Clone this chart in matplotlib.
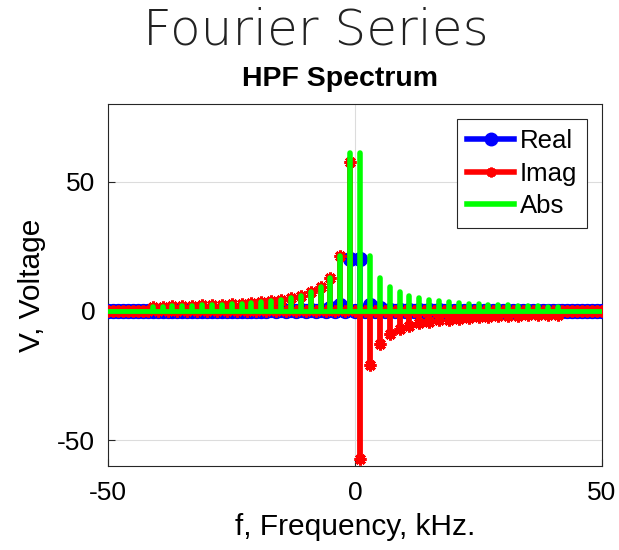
import numpy as np
import matplotlib
matplotlib.use('Agg')
import matplotlib.pyplot as plt
from matplotlib.lines import Line2D

# Espectro de uma onda quadrada depois do filtro passa-altas (harmônicos ímpares, kHz)
harmonicos = [1, 3, 5, 7, 9, 11, 13, 15, 17, 19, 21, 23, 25, 27, 29, 31, 33, 35, 37, 39, 41]
parte_real = [20.0, 2.4, 0.9, 0.45, 0.3, 0.2, 0.15, 0.1, 0.1, 0.05, 0.05,
              0.05, 0.05, 0.03, 0.03, 0.03, 0.02, 0.02, 0.02, 0.02, 0.02]
parte_imag = [-57.5, -21.0, -12.7, -9.1, -7.1, -5.8, -4.9, -4.2, -3.7, -3.4, -3.0,
              -2.8, -2.5, -2.4, -2.2, -2.1, -1.9, -1.8, -1.7, -1.6, -1.6]

# Eixo de frequência de -50 a 50 kHz, zero fora dos harmônicos
f = np.arange(-50, 51)
real = np.zeros(len(f))
imag = np.zeros(len(f))
for n, re, im in zip(harmonicos, parte_real, parte_imag):
    real[f == n] = re
    real[f == -n] = re
    imag[f == n] = im
    imag[f == -n] = -im
modulo = np.hypot(real, imag)

plt.rcParams['font.family'] = ['Liberation Sans', 'DejaVu Sans']
plt.rcParams['axes.unicode_minus'] = False

fig = plt.figure(figsize=(6.19, 5.50), dpi=100)
ax = fig.add_axes([0.175, 0.153, 0.7975, 0.658])

asterisco = (8, 2, 0)

# Real
ml, sl, bl = ax.stem(f, real)
plt.setp(ml, color='blue', marker='o', markersize=10, zorder=3)
plt.setp(sl, color='blue', linewidth=4, zorder=3)
plt.setp(bl, color='blue', linewidth=5, zorder=3, solid_capstyle='round')

# Imag
ml, sl, bl = ax.stem(f, imag)
plt.setp(ml, color='red', marker=asterisco, markersize=8.5, markeredgewidth=2.2, zorder=4)
plt.setp(sl, color='red', linewidth=4.2, zorder=4)
sl.set_capstyle('round')
plt.setp(bl, color='red', linewidth=5, zorder=4)

# Abs
ml, sl, bl = ax.stem(f, modulo)
plt.setp(ml, visible=False)
plt.setp(sl, color='#00ff00', linewidth=4, zorder=5)
sl.set_capstyle('round')
plt.setp(bl, color='#00ff00', linewidth=3.5, zorder=5)

ax.set_xlim(-50, 50)
ax.set_ylim(-60, 80)
ax.set_xticks([-50, 0, 50])
ax.set_yticks([-50, 0, 50])
ax.grid(True, color='#dcdcdc', linewidth=0.8)
ax.set_axisbelow(True)
ax.tick_params(direction='in', length=5, labelsize=19, width=0.8, color='#262626')
ax.tick_params(axis='x', pad=11)
ax.tick_params(axis='y', pad=9.5)
for s in ax.spines.values():
    s.set_color('#262626')
    s.set_linewidth(0.8)

ax.set_xlabel('f, Frequency, kHz.', fontsize=21.5, labelpad=6)
ax.set_ylabel('V, Voltage', fontsize=21.5, labelpad=8)
fig.text(0.549, 0.857, 'HPF Spectrum', fontsize=20.5, fontweight='bold', ha='center', va='center')
fig.text(0.51, 0.945, 'Fourier Series', fontsize=36, family='DejaVu Sans', fontweight='light',
         color='#222222', ha='center', va='center')

handles = [Line2D([], [], color='blue', lw=4, marker='o', markersize=9),
           Line2D([], [], color='red', lw=4, marker=asterisco, markersize=7, markeredgewidth=2),
           Line2D([], [], color='#00ff00', lw=4)]
leg = ax.legend(handles, ['Real', 'Imag', 'Abs'], loc='upper right', bbox_to_anchor=(0.97, 0.959),
                borderaxespad=0, fontsize=18.5, fancybox=False, framealpha=1, handlelength=1.85,
                handletextpad=0.2, labelspacing=0.33, borderpad=0.4)
leg.get_frame().set_edgecolor('#262626')
leg.get_frame().set_linewidth(0.8)

fig.savefig('out.png', dpi=100)
